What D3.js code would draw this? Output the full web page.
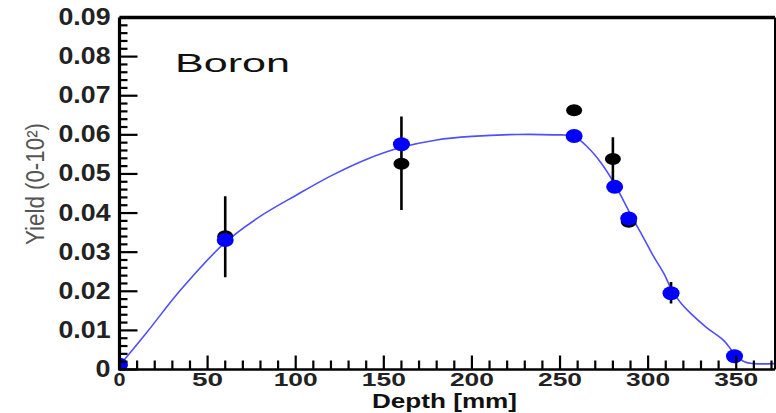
<!DOCTYPE html>
<html>
<head>
<meta charset="utf-8">
<script src="https://cdn.jsdelivr.net/npm/d3@7"></script>
<style>
  body { margin: 0; background: #fff; }
  svg { display: block; }
</style>
</head>
<body>
<div id="chart"></div>
<script>
// data
var depthMeas = [60, 160, 258, 280, 289, 313];
var yieldMeas = [0.0341, 0.0526, 0.0663, 0.0538, 0.0378, 0.0195];
var errLow = [0.0236, 0.0408, 0.0663, 0.0484, 0.0372, 0.0169];
var errHigh = [0.0443, 0.0647, 0.0663, 0.0594, 0.0384, 0.0224];

var depthSim = [0, 60, 160, 258, 281, 289, 313, 349];
var yieldSim = [0.0012, 0.0331, 0.0576, 0.0597, 0.0467, 0.0386, 0.0195, 0.0034];

var depthFit = [0, 15, 35, 60, 80, 100, 120, 140, 160, 180, 200, 226, 246, 258, 266, 273, 280, 286, 291, 297, 303, 309, 313, 318, 324, 333, 343, 349, 355, 360, 372];
var yieldFit = [0.001, 0.0092, 0.0205, 0.0325, 0.0392, 0.0445, 0.0495, 0.0537, 0.0568, 0.0587, 0.0596, 0.0601, 0.0600, 0.0596, 0.0567, 0.0530, 0.0482, 0.0432, 0.0388, 0.0340, 0.0290, 0.0245, 0.0207, 0.0173, 0.0144, 0.0108, 0.0074, 0.0040, 0.0019, 0.0015, 0.0015];

var xTicks = [0, 50, 100, 150, 200, 250, 300, 350];
var yTicks = [0, 0.01, 0.02, 0.03, 0.04, 0.05, 0.06, 0.07, 0.08, 0.09];

// set the dimensions and margins of the graph
var W = 776, H = 413;
var margin = { top: 17.5, right: 1, bottom: 43.5, left: 119.5 },
    width = W - margin.left - margin.right,
    height = H - margin.top - margin.bottom;

var svg = d3.select("#chart")
    .append("svg")
    .attr("width", W)
    .attr("height", H)
    .append("g")
    .attr("transform", "translate(" + margin.left + "," + margin.top + ")");

var x = d3.scaleLinear().domain([0, 372]).range([0, width]);
var y = d3.scaleLinear().domain([0, 0.09]).range([height, 0]);

svg.append("clipPath").attr("id", "clip")
    .append("rect").attr("x", 0).attr("y", 0).attr("width", width).attr("height", height);

var plot = svg.append("g").attr("clip-path", "url(#clip)");

// fit curve
var fit = depthFit.map(function (d, i) { return [d, yieldFit[i]]; });
plot.append("path")
    .datum(fit)
    .attr("fill", "none")
    .attr("stroke", "#4f4fff")
    .attr("stroke-width", 1.6)
    .attr("d", d3.line()
        .x(function (d) { return x(d[0]); })
        .y(function (d) { return y(d[1]); })
        .curve(d3.curveCatmullRom.alpha(0.5)));

// error bars
var meas = depthMeas.map(function (d, i) { return { d: d, v: yieldMeas[i], lo: errLow[i], hi: errHigh[i] }; });
plot.selectAll(".err")
    .data(meas)
    .enter().append("line")
    .attr("x1", function (d) { return x(d.d); })
    .attr("x2", function (d) { return x(d.d); })
    .attr("y1", function (d) { return y(d.lo); })
    .attr("y2", function (d) { return y(d.hi); })
    .attr("stroke", "#000")
    .attr("stroke-width", 2.6);

plot.selectAll(".meas")
    .data(meas)
    .enter().append("ellipse")
    .attr("cx", function (d) { return x(d.d); })
    .attr("cy", function (d) { return y(d.v); })
    .attr("rx", 8)
    .attr("ry", 6)
    .attr("fill", "#000");

// simulated points
var sim = depthSim.map(function (d, i) { return [d, yieldSim[i]]; });
plot.selectAll(".sim")
    .data(sim)
    .enter().append("ellipse")
    .attr("cx", function (d) { return x(d[0]); })
    .attr("cy", function (d) { return y(d[1]); })
    .attr("rx", 8.5)
    .attr("ry", 7)
    .attr("fill", "#0000ff");

// frame
svg.append("line").attr("x1", 0).attr("x2", width).attr("y1", 0).attr("y2", 0)
    .attr("stroke", "#000").attr("stroke-width", 3.5);
svg.append("line").attr("x1", width).attr("x2", width).attr("y1", 0).attr("y2", height)
    .attr("stroke", "#000").attr("stroke-width", 2);

// X axis ticks (inside)
var xMinor = d3.range(0, 372, 10);
svg.selectAll(".xminor")
    .data(xMinor)
    .enter().append("line")
    .attr("x1", function (d) { return x(d); })
    .attr("x2", function (d) { return x(d); })
    .attr("y1", height)
    .attr("y2", function (d) { return d % 50 === 0 ? height - 14 : height - 9; })
    .attr("stroke", "#000")
    .attr("stroke-width", 2.2);

// Y axis ticks (inside)
var yMinor = d3.range(0, 46).map(function (i) { return i * 0.002; });
svg.selectAll(".yminor")
    .data(yMinor)
    .enter().append("line")
    .attr("y1", function (d) { return y(d); })
    .attr("y2", function (d) { return y(d); })
    .attr("x1", 0)
    .attr("x2", function (d, i) { return i % 5 === 0 ? 18 : 8; })
    .attr("stroke", "#000")
    .attr("stroke-width", 2.2);

svg.append("line").attr("x1", 0).attr("x2", width).attr("y1", height).attr("y2", height)
    .attr("stroke", "#000").attr("stroke-width", 2.6);
svg.append("line").attr("x1", 0).attr("x2", 0).attr("y1", 0).attr("y2", height + 1)
    .attr("stroke", "#000").attr("stroke-width", 3.2);

// tick labels
svg.selectAll(".xlab")
    .data(xTicks)
    .enter().append("text")
    .attr("x", function (d) { return x(d); })
    .attr("y", height + 16)
    .attr("text-anchor", "middle")
    .attr("textLength", function (d) { return String(d).length === 1 ? 12 : String(d).length === 2 ? 31 : 44; })
    .attr("lengthAdjust", "spacingAndGlyphs")
    .style("font-family", "'Liberation Sans', Arial, sans-serif")
    .style("font-weight", "bold")
    .style("font-size", "18.5px")
    .style("fill", "#222")
    .text(function (d) { return d; });

svg.selectAll(".ylab")
    .data(yTicks)
    .enter().append("text")
    .attr("x", -9)
    .attr("y", function (d) { return y(d) + 7.5; })
    .attr("text-anchor", "end")
    .attr("textLength", function (d) { return d === 0 ? 15 : 52; })
    .attr("lengthAdjust", "spacingAndGlyphs")
    .style("font-family", "'Liberation Sans', Arial, sans-serif")
    .style("font-weight", "bold")
    .style("font-size", "23px")
    .style("fill", "#222")
    .text(function (d) { return d === 0 ? "0" : d3.format(".2f")(d); });

// labels
svg.append("text")
    .attr("x", 175 - margin.left)
    .attr("y", 72 - margin.top)
    .attr("textLength", 115)
    .attr("lengthAdjust", "spacingAndGlyphs")
    .style("font-family", "'Liberation Sans', Arial, sans-serif")
    .style("font-size", "26px")
    .style("fill", "#111")
    .text("Boron");

svg.append("text")
    .attr("x", 372 - margin.left)
    .attr("y", 408 - margin.top)
    .attr("textLength", 145)
    .attr("lengthAdjust", "spacingAndGlyphs")
    .style("font-family", "'Liberation Sans', Arial, sans-serif")
    .style("font-weight", "bold")
    .style("font-size", "21px")
    .style("fill", "#111")
    .text("Depth [mm]");

svg.append("text")
    .attr("transform", "translate(" + (44 - margin.left) + "," + (184 - margin.top) + ") rotate(-90)")
    .attr("text-anchor", "middle")
    .attr("textLength", 122)
    .attr("lengthAdjust", "spacingAndGlyphs")
    .style("font-family", "'Liberation Sans', Arial, sans-serif")
    .style("font-size", "26px")
    .style("fill", "#555")
    .text("Yield (0-10²)");
</script>
</body>
</html>
